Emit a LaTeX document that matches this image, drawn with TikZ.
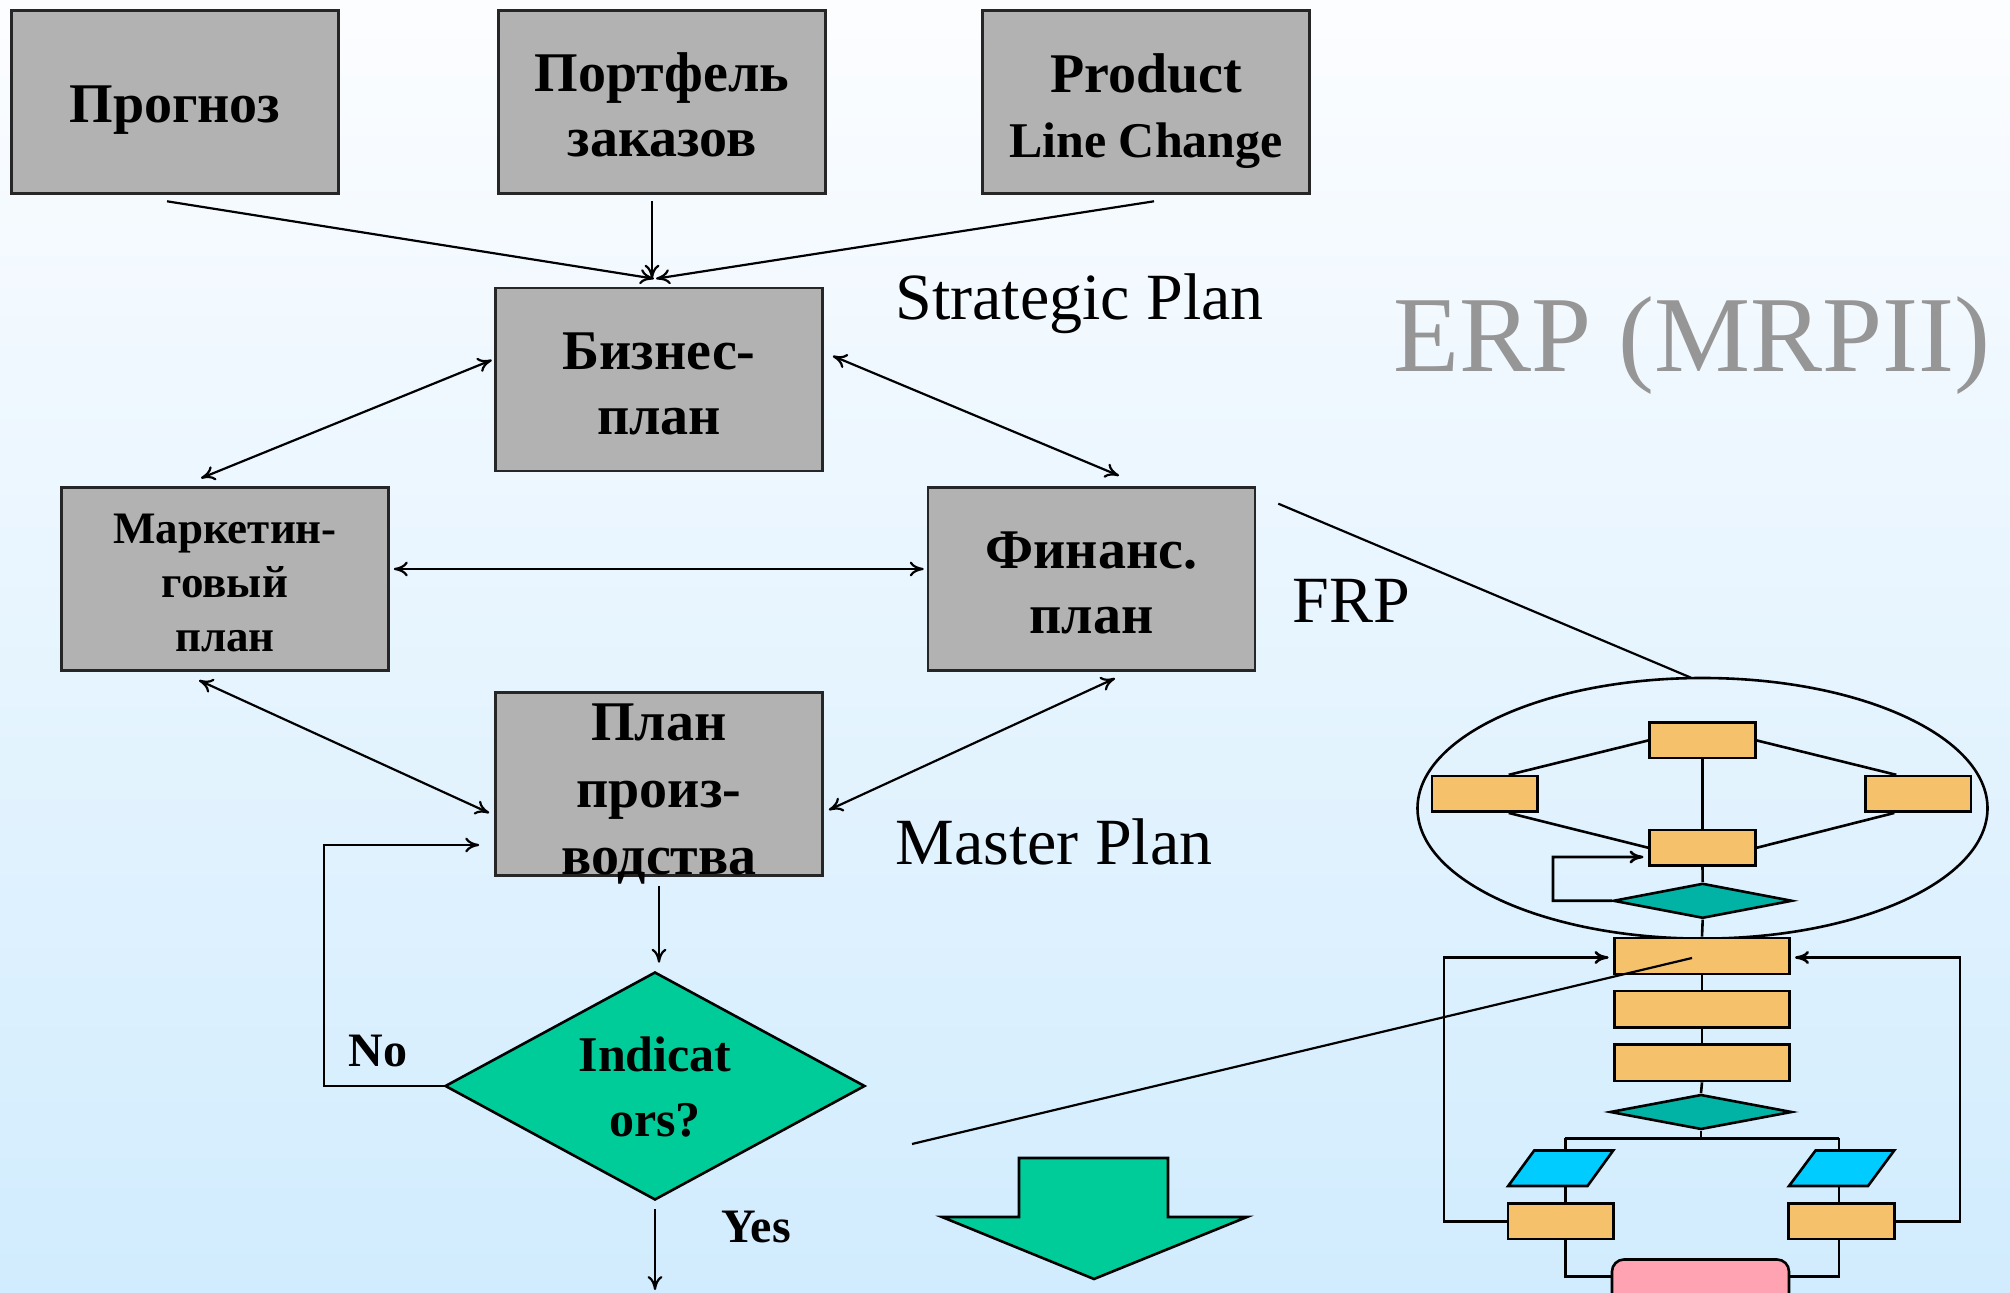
\documentclass[tikz,border=0pt]{standalone}
\usepackage{fontspec}
\setmainfont{Liberation Serif}
\usetikzlibrary{arrows.meta,shapes.geometric}

\definecolor{boxgray}{RGB}{178,178,178}
\definecolor{decgreen}{RGB}{0,204,153}
\definecolor{mteal}{RGB}{0,179,164}
\definecolor{morange}{RGB}{245,193,107}
\definecolor{mcyan}{RGB}{0,204,255}
\definecolor{mpink}{RGB}{255,163,178}
\definecolor{erpgray}{RGB}{150,150,150}
\definecolor{bgtop}{RGB}{252,253,255}
\definecolor{bgbottom}{RGB}{209,236,254}

\begin{document}
\begin{tikzpicture}[x=0.5pt,y=-0.5pt,
  graybox/.style={draw=black!85, line width=1.3pt, fill=boxgray,
    minimum width=163.5pt, minimum height=91.5pt, inner sep=0pt},
  boxtext/.style={align=center, inner sep=0pt,
    font=\fontsize{28pt}{32.5pt}\selectfont\bfseries},
  sidetext/.style={anchor=base west, inner sep=0pt,
    font=\fontsize{33pt}{40pt}\selectfont},
  arr/.style={line width=1.1pt, -{To[length=7pt,width=7.5pt]}},
  darr/.style={line width=1.1pt, {To[length=7pt,width=7.5pt]}-{To[length=7pt,width=7.5pt]}},
  mline/.style={line width=1.3pt},
  marr/.style={line width=1.3pt, -{To[length=7pt,width=6.5pt]}},
  mbox/.style={draw, line width=1.3pt, fill=morange, inner sep=0pt,
    minimum width=52.75pt, minimum height=17.75pt},
  bbox/.style={mbox, minimum width=87.75pt, minimum height=18.15pt},
  mdia/.style={diamond, draw, line width=1.3pt, fill=mteal, inner sep=0pt,
    aspect=5.1, minimum width=89.5pt, minimum height=17.5pt},
  mpar/.style={draw, line width=1.3pt, fill=mcyan},
]
\useasboundingbox (0,0) rectangle (2010,1293);
% backdrop
\shade[top color=bgtop, bottom color=bgbottom] (0,0) rectangle (2010,1293);

% ---- planning boxes ----
\node[graybox] (prog) at (175,102) {};
\node[boxtext] (prog-t) at ([shift={(0,8)}]prog) {Прогноз};
\node[graybox] (port) at (662,102) {};
\node[boxtext] (port-t) at ([shift={(0,3)}]port) {Портфель\\заказов};
\node[graybox] (prod) at (1146,102) {};
\node[boxtext] (prod-t) at ([shift={(0,9)}]prod) {Product\\{\fontsize{25pt}{30pt}\selectfont Line Change}};
\node[graybox] (biz) at (659,379.5) {};
\node[boxtext] (biz-t) at ([shift={(0,4)}]biz) {Бизнес-\\план};
\node[graybox] (mark) at (225,579) {};
\node[boxtext, font=\fontsize{22.5pt}{27pt}\selectfont\bfseries] (mark-t) at ([shift={(0,4)}]mark) {Маркетин-\\говый\\план};
\node[graybox] (fin) at (1091.5,579) {};
\node[boxtext] (fin-t) at ([shift={(0,4)}]fin) {Финанс.\\план};
\node[graybox] (plan) at (659,784) {};
\node[boxtext, font=\fontsize{28pt}{33.5pt}\selectfont\bfseries] (plan-t) at ([shift={(0,10)}]plan) {План\\произ-\\водства};

% decision
\node[diamond, draw=black, line width=1.3pt, fill=decgreen, inner sep=0pt,
  aspect=1.842, minimum width=210pt, minimum height=114pt] (ind) at (655,1086) {};
\node[boxtext, font=\fontsize{25pt}{32.5pt}\selectfont\bfseries] (ind-t) at ([shift={(0,1)}]ind) {Indicat\\ors?};

% side captions
\node[sidetext] (strat) at (895,320) {Strategic Plan};
\node[sidetext] (frp) at (1292,623) {FRP};
\node[sidetext] (master) at (895,865) {Master Plan};
\node[sidetext, text=erpgray, font=\fontsize{54pt}{60pt}\selectfont] (erp) at (1393,372) {ERP (MRPII)};
\node[anchor=base west, inner sep=0pt, font=\fontsize{24pt}{28pt}\selectfont\bfseries] (no) at (348,1067) {No};
\node[anchor=base west, inner sep=0pt, font=\fontsize{24pt}{28pt}\selectfont\bfseries] (yes) at (721,1242) {Yes};

% ---- connectors ----
\draw[arr] ([shift={(-8,6.5)}]prog.south) -- ([shift={(-5,-8)}]biz.north);
\draw[arr] ([shift={(-10,6.5)}]port.south) -- ([shift={(-7,-8)}]biz.north);
\draw[arr] ([shift={(8,6.5)}]prod.south) -- ([shift={(-3,-8)}]biz.north);
\draw[darr] ([shift={(-24,-8)}]mark.north) -- ([shift={(-2.4,-19.5)}]biz.west);
\draw[darr] ([shift={(9,-23.5)}]biz.east) -- ([shift={(27.5,-10.5)}]fin.north);
\draw[darr] ([shift={(4,-10)}]mark.east) -- ([shift={(-3,-10)}]fin.west);
\draw[darr] ([shift={(-26,8.5)}]mark.south) -- ([shift={(-5,29)}]plan.west);
\draw[darr] ([shift={(23.5,6.5)}]fin.south) -- ([shift={(5,26)}]plan.east);
\draw[arr] ([shift={(0,9)}]plan.south) -- ([shift={(4,-8)}]ind.north);
\coordinate (noturn) at (324,845);
\draw[arr] (ind.west) -| (noturn) -- ([shift={(-15,61)}]plan.west);
\coordinate (yesend) at (655,1290);
\draw[arr] ([shift={(0,8)}]ind.south) -- (yesend);

% result arrow
\draw[line width=1.3pt, fill=decgreen] (1019,1158) -- (1168,1158) -- (1168,1217) -- (1247,1217)
  -- (1094,1279) -- (942,1217) -- (1019,1217) -- cycle;

% ---- MRP detail chart ----
\node[ellipse, draw, line width=1.3pt, inner sep=0pt, minimum width=285pt, minimum height=130.3pt] (ell) at (1702.5,808.3) {};
\node[mbox] (mtop) at (1702.5,740.4) {};
\node[mbox] (mleft) at (1484.7,793.9) {};
\node[mbox] (mright) at (1918.3,793.9) {};
\node[mbox] (mmid) at (1702.5,847.8) {};
\node[mdia] (md1) at (1702.7,900.8) {};
\node[bbox] (big1) at (1702,956) {};
\node[bbox] (big2) at (1702,1009.2) {};
\node[bbox] (big3) at (1702,1062.9) {};
\node[mdia, minimum width=91pt] (md2) at (1701,1112) {};
\node[mbox] (bl) at (1560.7,1221.4) {};
\node[mbox] (br) at (1841.5,1221.4) {};
\node[draw, line width=1.3pt, fill=mpink, rounded corners=6pt, inner sep=0pt,
  minimum width=88.5pt, minimum height=30.5pt] (pink) at (1700.5,1290) {};

% data parallelograms
\draw[mpar] (1508.2,1186) -- (1587.5,1186) -- (1613.2,1150.5) -- (1534.2,1150.5) -- cycle;
\draw[mpar] (1789,1186) -- (1868,1186) -- (1894.2,1150.5) -- (1815.6,1150.5) -- cycle;
\coordinate (plTop) at (1565.4,1150.5);
\coordinate (plBot) at (1565.4,1186);
\coordinate (prTop) at (1839,1150.5);
\coordinate (prBot) at (1839,1186);
\coordinate (brL) at (1565.4,1138.4);
\coordinate (brR) at (1839,1138.4);

\draw[mline] (mtop.south) -- (mmid.north);
\draw[mline] ([shift={(24,0)}]mleft.north) -- (mtop.west);
\draw[mline] ([shift={(24,0)}]mleft.south) -- (mmid.west);
\draw[mline] (mtop.east) -- ([shift={(-22,0)}]mright.north);
\draw[mline] (mmid.east) -- ([shift={(-24,0)}]mright.south);
\draw[mline] (mmid.south) -- (md1.north);
\draw[mline] (md1.south) -- (big1.north);
\draw[mline] (big1.south) -- (big2.north);
\draw[mline] (big2.south) -- (big3.north);
\draw[mline] (big3.south) -- (md2.north);
\draw[mline] (md2.south) -- (md2.south |- brL);
\draw[mline] (brL) -- (brR);
\draw[mline] (brL) -- (plTop);
\draw[mline] (brR) -- (prTop);
\draw[mline] (plBot) -- (plBot |- bl.north);
\draw[mline] (prBot) -- (prBot |- br.north);
\draw[mline] (plBot |- bl.south) |- ([shift={(0,-13.3)}]pink.west);
\draw[mline] (prBot |- br.south) |- ([shift={(0,-13.3)}]pink.east);

\coordinate (fbk) at (1553,857);
\draw[marr] (md1.west) -| (fbk) -- ([shift={(-5,9.2)}]mmid.west);
\coordinate (llp) at (1444,957.5);
\draw[marr] (bl.west) -| (llp) -- ([shift={(-4.4,1.5)}]big1.west);
\coordinate (rlp) at (1960,957.5);
\draw[marr] (br.east) -| (rlp) -- ([shift={(4,1.5)}]big1.east);

% pointers into the detail chart
\draw[line width=1.1pt] ([shift={(22,17.5)}]fin.north east) -- ([shift={(-11.5,1)}]ell.north);
\coordinate (lnA) at (912,1144);
\draw[line width=1.1pt] (lnA) -- ([shift={(-10,2)}]big1.center);
\end{tikzpicture}
\end{document}
